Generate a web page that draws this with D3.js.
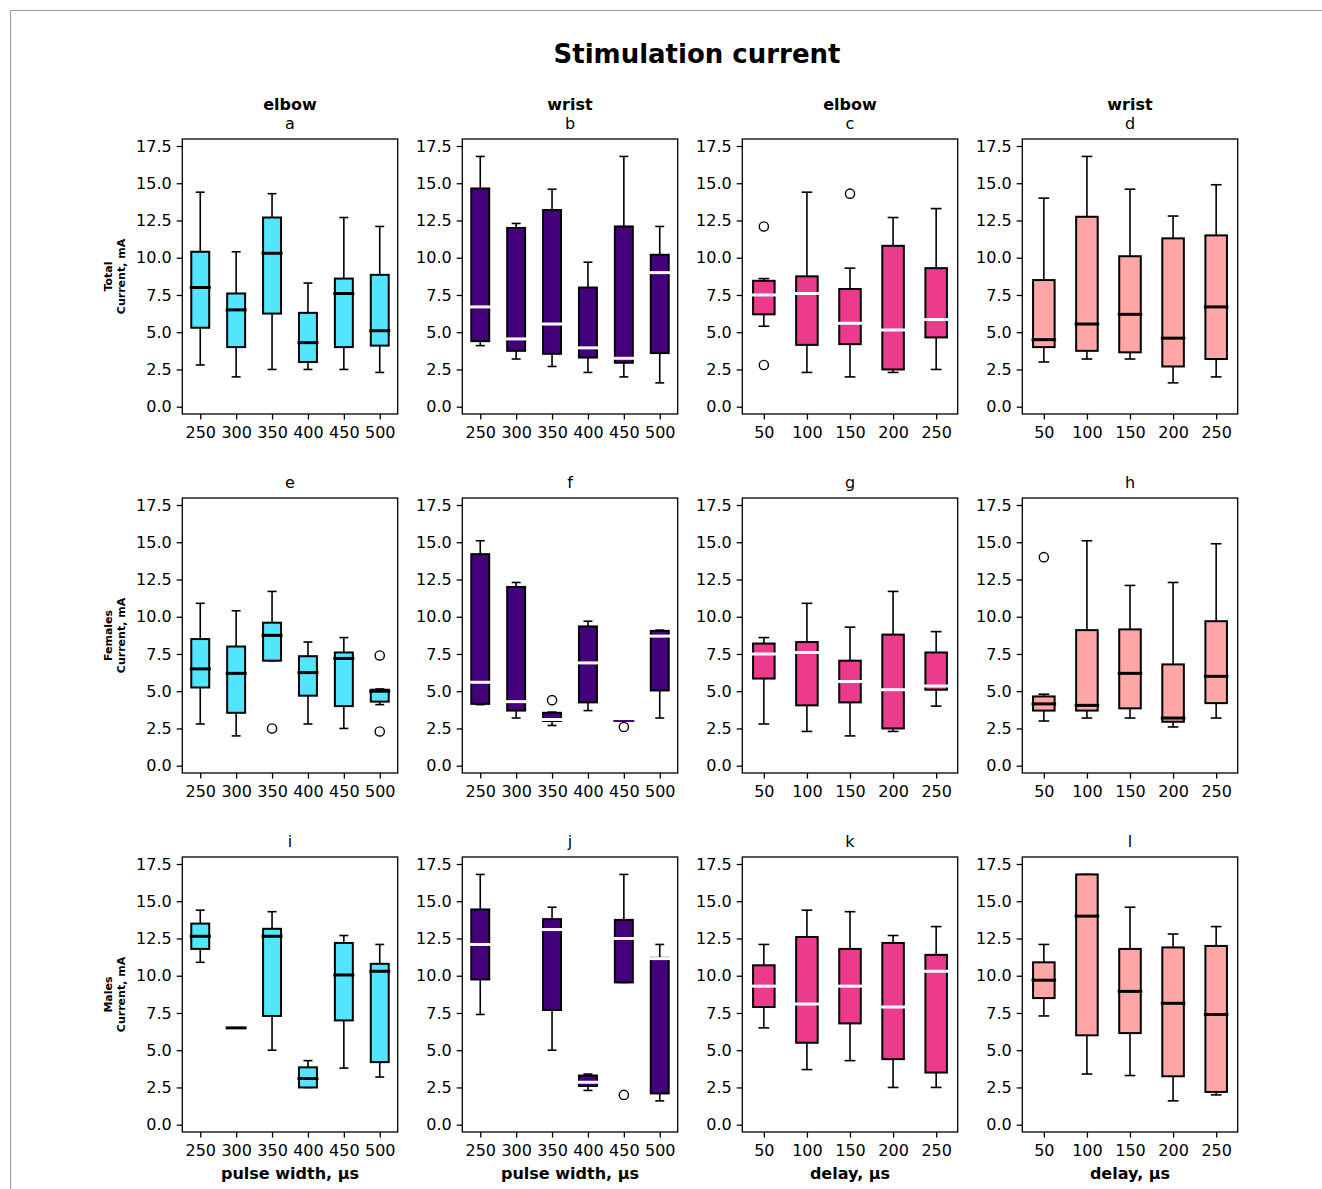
<!DOCTYPE html>
<html>
<head>
<meta charset="utf-8">
<script src="https://cdn.jsdelivr.net/npm/d3@7"></script>
<style>
body { margin: 0; background: #fff; }
text { font-family: "DejaVu Sans", sans-serif; }
</style>
</head>
<body>
<div id="chart"></div>
<script>
// categories and ticks
const pulseWidths = ["250", "300", "350", "400", "450", "500"];
const delays = ["50", "100", "150", "200", "250"];
const yTicks = [0, 2.5, 5, 7.5, 10, 12.5, 15, 17.5];
const rowNames = ["Total", "Females", "Males"];
const colNames = ["elbow", "wrist", "elbow", "wrist"];
const letters = "abcdefghijkl".split("");

// box stats per category: [whisker low, q1, median, q3, whisker high]
const totalElbowPulse = [[2.8, 5.3, 8.0, 10.4, 14.4], [2.0, 4.0, 6.5, 7.6, 10.4], [2.5, 6.25, 10.3, 12.7, 14.3],
  [2.5, 3.0, 4.3, 6.3, 8.3], [2.5, 4.0, 7.6, 8.6, 12.7], [2.3, 4.1, 5.1, 8.85, 12.1]];
const totalWristPulse = [[4.1, 4.4, 6.7, 14.65, 16.8], [3.2, 3.75, 4.55, 12.0, 12.3], [2.7, 3.55, 5.55, 13.2, 14.6],
  [2.3, 3.3, 3.95, 8.0, 9.7], [2.0, 2.95, 3.25, 12.1, 16.8], [1.6, 3.6, 9.0, 10.2, 12.1]];
const totalElbowDelay = [[5.4, 6.2, 7.5, 8.45, 8.6], [2.3, 4.15, 7.6, 8.75, 14.4], [2.0, 4.2, 5.6, 7.9, 9.3],
  [2.3, 2.5, 5.15, 10.8, 12.7], [2.5, 4.65, 5.85, 9.3, 13.3]];
const totalWristDelay = [[3.0, 4.0, 4.5, 8.5, 14.0], [3.2, 3.75, 5.55, 12.75, 16.8], [3.2, 3.65, 6.2, 10.1, 14.6],
  [1.6, 2.7, 4.6, 11.3, 12.8], [2.0, 3.2, 6.7, 11.5, 14.9]];

const femalesElbowPulse = [[2.8, 5.25, 6.5, 8.5, 10.9], [2.0, 3.55, 6.2, 8.0, 10.4], [7.05, 7.05, 8.75, 9.6, 11.7],
  [2.8, 4.7, 6.25, 7.35, 8.3], [2.5, 4.0, 7.2, 7.6, 8.6], [4.1, 4.3, 5.0, 5.1, 5.15]];
const femalesWristPulse = [[4.1, 4.15, 5.6, 14.2, 15.1], [3.2, 3.7, 4.3, 12.0, 12.3], [2.7, 3.0, 3.1, 3.55, 3.6],
  [3.7, 4.25, 6.9, 9.35, 9.7], [3.0, 3.0, 3.0, 3.0, 3.0], [3.2, 5.05, 8.7, 9.05, 9.1]];
const femalesElbowDelay = [[2.8, 5.85, 7.5, 8.2, 8.6], [2.3, 4.05, 7.6, 8.3, 10.9], [2.0, 4.25, 5.65, 7.05, 9.3],
  [2.3, 2.5, 5.1, 8.8, 11.7], [4.0, 5.1, 5.35, 7.6, 9.0]];
const femalesWristDelay = [[3.0, 3.7, 4.15, 4.65, 4.8], [3.2, 3.7, 4.05, 9.1, 15.1], [3.2, 3.85, 6.2, 9.15, 12.1],
  [2.6, 2.95, 3.2, 6.8, 12.3], [3.2, 4.2, 6.0, 9.7, 14.9]];

const malesElbowPulse = [[10.9, 11.8, 12.65, 13.5, 14.4], [6.5, 6.5, 6.5, 6.5, 6.5], [5.0, 7.3, 12.65, 13.15, 14.3],
  [2.5, 2.5, 3.1, 3.85, 4.3], [3.8, 7.0, 10.05, 12.2, 12.7], [3.2, 4.2, 10.3, 10.8, 12.1]];
const malesWristPulse = [[7.4, 9.75, 12.1, 14.45, 16.8], null, [5.0, 7.7, 13.1, 13.8, 14.6],
  [2.3, 2.6, 2.85, 3.3, 3.4], [9.55, 9.55, 12.5, 13.75, 16.8], [1.6, 2.1, 11.15, 11.2, 12.1]];
const malesElbowDelay = [[6.5, 7.9, 9.3, 10.7, 12.1], [3.7, 5.5, 8.1, 12.6, 14.4], [4.3, 6.8, 9.3, 11.8, 14.3],
  [2.5, 4.4, 7.9, 12.2, 12.7], [2.5, 3.5, 10.3, 11.4, 13.3]];
const malesWristDelay = [[7.3, 8.5, 9.7, 10.9, 12.1], [3.4, 6.0, 14.0, 16.8, 16.8], [3.3, 6.15, 8.95, 11.8, 14.6],
  [1.6, 3.25, 8.15, 11.9, 12.8], [2.0, 2.2, 7.4, 12.0, 13.3]];

// outliers per category
const fliers = {
  c: [[12.1, 2.8], [], [14.3], [], []],
  e: [[], [], [2.5], [], [], [7.4, 2.3]],
  f: [[], [], [4.4], [], [2.6], []],
  h: [[14.0], [], [], [], []],
  j: [[], [], [], [], [2.0], []]
};

const boxData = [
  totalElbowPulse, totalWristPulse, totalElbowDelay, totalWristDelay,
  femalesElbowPulse, femalesWristPulse, femalesElbowDelay, femalesWristDelay,
  malesElbowPulse, malesWristPulse, malesElbowDelay, malesWristDelay
];
const colFill = ["#52e5fd", "#44017c", "#ec3a8c", "#ffa6a6"];
const colMedian = ["#000", "#fff", "#fff", "#000"];
const colCats = [pulseWidths, pulseWidths, delays, delays];
const xLabels = ["pulse width, µs", "pulse width, µs", "delay, µs", "delay, µs"];

const W = 1322, H = 1189;
const pw = 215.4, ph = 275;
const colX = [182.3, 462.3, 742.3, 1022.3];
const rowY = [139, 498, 857];

const svg = d3.select("#chart").append("svg")
  .attr("width", W).attr("height", H);
svg.append("rect").attr("width", W).attr("height", H).attr("fill", "#fff");
svg.append("path").attr("d", "M10.5," + H + "V10.5H" + W)
  .attr("fill", "none").attr("stroke", "#999").attr("stroke-width", 1);

svg.append("text").attr("x", 697).attr("y", 63)
  .attr("text-anchor", "middle").attr("font-size", 26).attr("font-weight", "bold")
  .text("Stimulation current");

const y = d3.scaleLinear().domain([-0.49, 17.97]).range([ph, 0]);

boxData.forEach(function (stats, i) {
  const row = Math.floor(i / 4), col = i % 4;
  const cats = colCats[col];
  const letter = letters[i];
  const x = d3.scaleLinear().domain([0.5, cats.length + 0.5]).range([0, pw]);
  const bw = x(1.25) - x(1);   // half box width
  const cw = x(1.125) - x(1);  // half cap width

  const g = svg.append("g")
    .attr("transform", "translate(" + colX[col] + "," + rowY[row] + ")");

  // titles
  g.append("text").attr("x", pw / 2).attr("y", -10)
    .attr("text-anchor", "middle").attr("font-size", 16).text(letter);
  if (row === 0) {
    g.append("text").attr("x", pw / 2).attr("y", -29.2)
      .attr("text-anchor", "middle").attr("font-size", 16).attr("font-weight", "bold")
      .text(colNames[col]);
  }

  // axes
  const ya = g.append("g")
    .call(d3.axisLeft(y).tickValues(yTicks).tickFormat(d3.format(".1f")).tickSize(5.6).tickPadding(5));
  const xa = g.append("g").attr("transform", "translate(0," + ph + ")")
    .call(d3.axisBottom(x).tickValues(d3.range(1, cats.length + 1))
      .tickFormat(function (d) { return cats[d - 1]; }).tickSize(5.6).tickPadding(7.2));
  [ya, xa].forEach(function (a) {
    a.select(".domain").remove();
    a.selectAll("line").attr("stroke-width", 1.3);
    a.selectAll("text").attr("font-size", 16).attr("fill", "#000")
      .style("font-family", "'DejaVu Sans', sans-serif");
  });

  // boxes
  stats.forEach(function (s, k) {
    if (!s) return;
    const cx = x(k + 1);
    const b = g.append("g");
    b.append("line").attr("x1", cx).attr("x2", cx).attr("y1", y(s[1])).attr("y2", y(s[0]))
      .attr("stroke", "#000").attr("stroke-width", 1.6);
    b.append("line").attr("x1", cx).attr("x2", cx).attr("y1", y(s[3])).attr("y2", y(s[4]))
      .attr("stroke", "#000").attr("stroke-width", 1.6);
    [s[0], s[4]].forEach(function (v) {
      b.append("line").attr("x1", cx - cw).attr("x2", cx + cw).attr("y1", y(v)).attr("y2", y(v))
        .attr("stroke", "#000").attr("stroke-width", 1.6);
    });
    b.append("rect").attr("x", cx - bw).attr("width", 2 * bw)
      .attr("y", y(s[3])).attr("height", Math.max(0, y(s[1]) - y(s[3])))
      .attr("fill", colFill[col]).attr("stroke", "#000").attr("stroke-width", 2);
    // a collapsed box keeps its fill colour showing instead of the median stroke
    const flat = s[1] === s[3] && col === 1;
    b.append("line").attr("x1", cx - bw - 1.5).attr("x2", cx + bw + 1.5)
      .attr("y1", y(s[2])).attr("y2", y(s[2]))
      .attr("stroke", flat ? colFill[col] : colMedian[col]).attr("stroke-width", flat ? 2 : 3);
    const fl = fliers[letter] ? fliers[letter][k] : [];
    fl.forEach(function (v) {
      b.append("circle").attr("cx", cx).attr("cy", y(v)).attr("r", 4.6)
        .attr("fill", "none").attr("stroke", "#000").attr("stroke-width", 1.4);
    });
  });

  // frame
  g.append("rect").attr("width", pw).attr("height", ph)
    .attr("fill", "none").attr("stroke", "#000").attr("stroke-width", 1.3);

  // row labels
  if (col === 0) {
    const t = g.append("text").attr("transform", "rotate(-90)")
      .attr("text-anchor", "middle").attr("font-size", 11).attr("font-weight", "bold");
    t.append("tspan").attr("x", -ph / 2).attr("y", -70).text(rowNames[row]);
    t.append("tspan").attr("x", -ph / 2).attr("y", -57).text("Current, mA");
  }
  // x labels
  if (row === 2) {
    g.append("text").attr("x", pw / 2).attr("y", ph + 47)
      .attr("text-anchor", "middle").attr("font-size", 16).attr("font-weight", "bold")
      .text(xLabels[col]);
  }
});
</script>
</body>
</html>
